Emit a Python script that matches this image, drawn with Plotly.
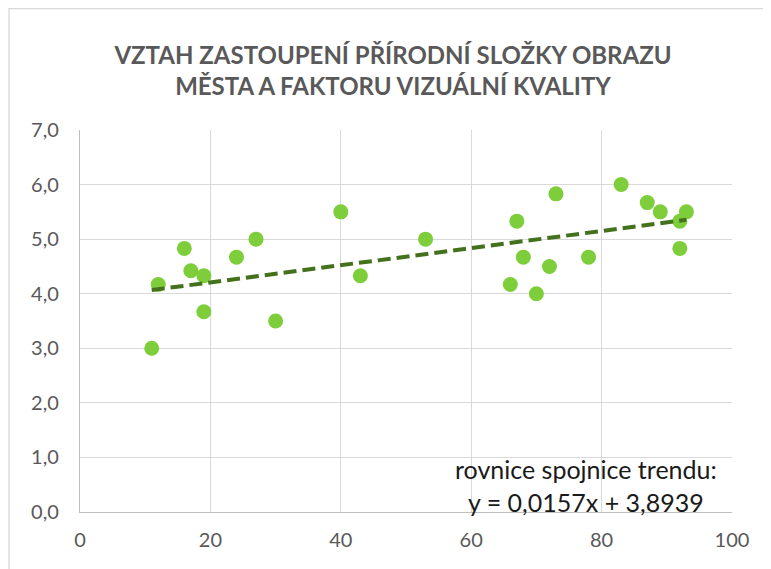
import plotly.graph_objects as go

# Data
share_nature = [11, 12, 16, 17, 19, 19, 24, 27, 30, 40, 43, 53, 66, 67, 68, 70, 72, 73, 78, 83, 87, 89, 92, 92, 93]
visual_quality = [3.0, 4.17, 4.83, 4.42, 4.33, 3.67, 4.67, 5.0, 3.5, 5.5, 4.33, 5.0, 4.17, 5.33, 4.67, 4.0, 4.5, 5.83, 4.67, 6.0, 5.67, 5.5, 4.83, 5.33, 5.5]

trend_slope = 0.0157
trend_intercept = 3.8939

x_ticks = [0, 20, 40, 60, 80, 100]
y_ticks = [0, 1, 2, 3, 4, 5, 6, 7]
y_tick_labels = ["0,0", "1,0", "2,0", "3,0", "4,0", "5,0", "6,0", "7,0"]

title_text = "VZTAH ZASTOUPENÍ PŘÍRODNÍ SLOŽKY OBRAZU<br>MĚSTA A FAKTORU VIZUÁLNÍ KVALITY"
eq_text = "rovnice spojnice trendu:<br>y = 0,0157x + 3,8939"

FONT = "Lato, Roboto, sans-serif"

tx = [min(share_nature), max(share_nature)]
ty = [trend_slope * v + trend_intercept for v in tx]

fig = go.Figure()
fig.add_trace(go.Scatter(
    x=share_nature, y=visual_quality, mode="markers",
    marker=dict(size=15, color="#7DCE3A", line=dict(width=0)),
    showlegend=False, hoverinfo="x+y"))
fig.add_trace(go.Scatter(
    x=tx, y=ty, mode="lines",
    line=dict(color="#43711C", width=4, dash="13px,6px"),
    showlegend=False, hoverinfo="skip"))

# figure is placed at an 8px page offset
W, H = 763, 561
L, R, T, B = 72, 39, 122, 57
pw, ph = W - L - R, H - T - B

def px_x(p):
    return (p - L) / pw

def px_y(p):
    return (H - B - p) / ph

fig.update_layout(
    width=W, height=H,
    margin=dict(l=L, r=R, t=T, b=B),
    paper_bgcolor="white", plot_bgcolor="white",
    font=dict(family=FONT, color="#595959", size=20),
    title=dict(text=title_text, xref="container", x=385 / W, xanchor="center",
               yref="container", y=1 - 56 / H, yanchor="middle",
               font=dict(family=FONT, size=24, color="#595959", weight="bold")),
    xaxis=dict(range=[0, 100], tickvals=x_ticks, ticktext=[str(v) for v in x_ticks],
               showgrid=True, gridcolor="#D9D9D9", gridwidth=1.3,
               showline=True, linecolor="#BFBFBF", linewidth=1.3,
               zeroline=False, ticks="", ticklen=0, fixedrange=True,
               ticklabelstandoff=10,
               tickfont=dict(size=20, color="#595959")),
    yaxis=dict(range=[0, 7], tickvals=y_ticks, ticktext=y_tick_labels,
               showgrid=True, gridcolor="#D9D9D9", gridwidth=1.3,
               showline=True, linecolor="#BFBFBF", linewidth=1.3,
               zeroline=False, ticks="", ticklen=0, fixedrange=True,
               ticklabelstandoff=16,
               tickfont=dict(size=20, color="#595959")),
    annotations=[dict(text=eq_text, xref="paper", yref="paper",
                      x=px_x(578), y=px_y(477), xanchor="center", yanchor="middle",
                      showarrow=False, align="center",
                      font=dict(family=FONT, size=25, color="#1A1A1A"))],
    shapes=[dict(type="rect", xref="paper", yref="paper",
                 x0=px_x(1), x1=px_x(790), y0=px_y(590), y1=px_y(0.5),
                 line=dict(color="#D9D9D9", width=1.3), fillcolor="rgba(0,0,0,0)",
                 layer="below")],
)

fig.write_html("out.html")
